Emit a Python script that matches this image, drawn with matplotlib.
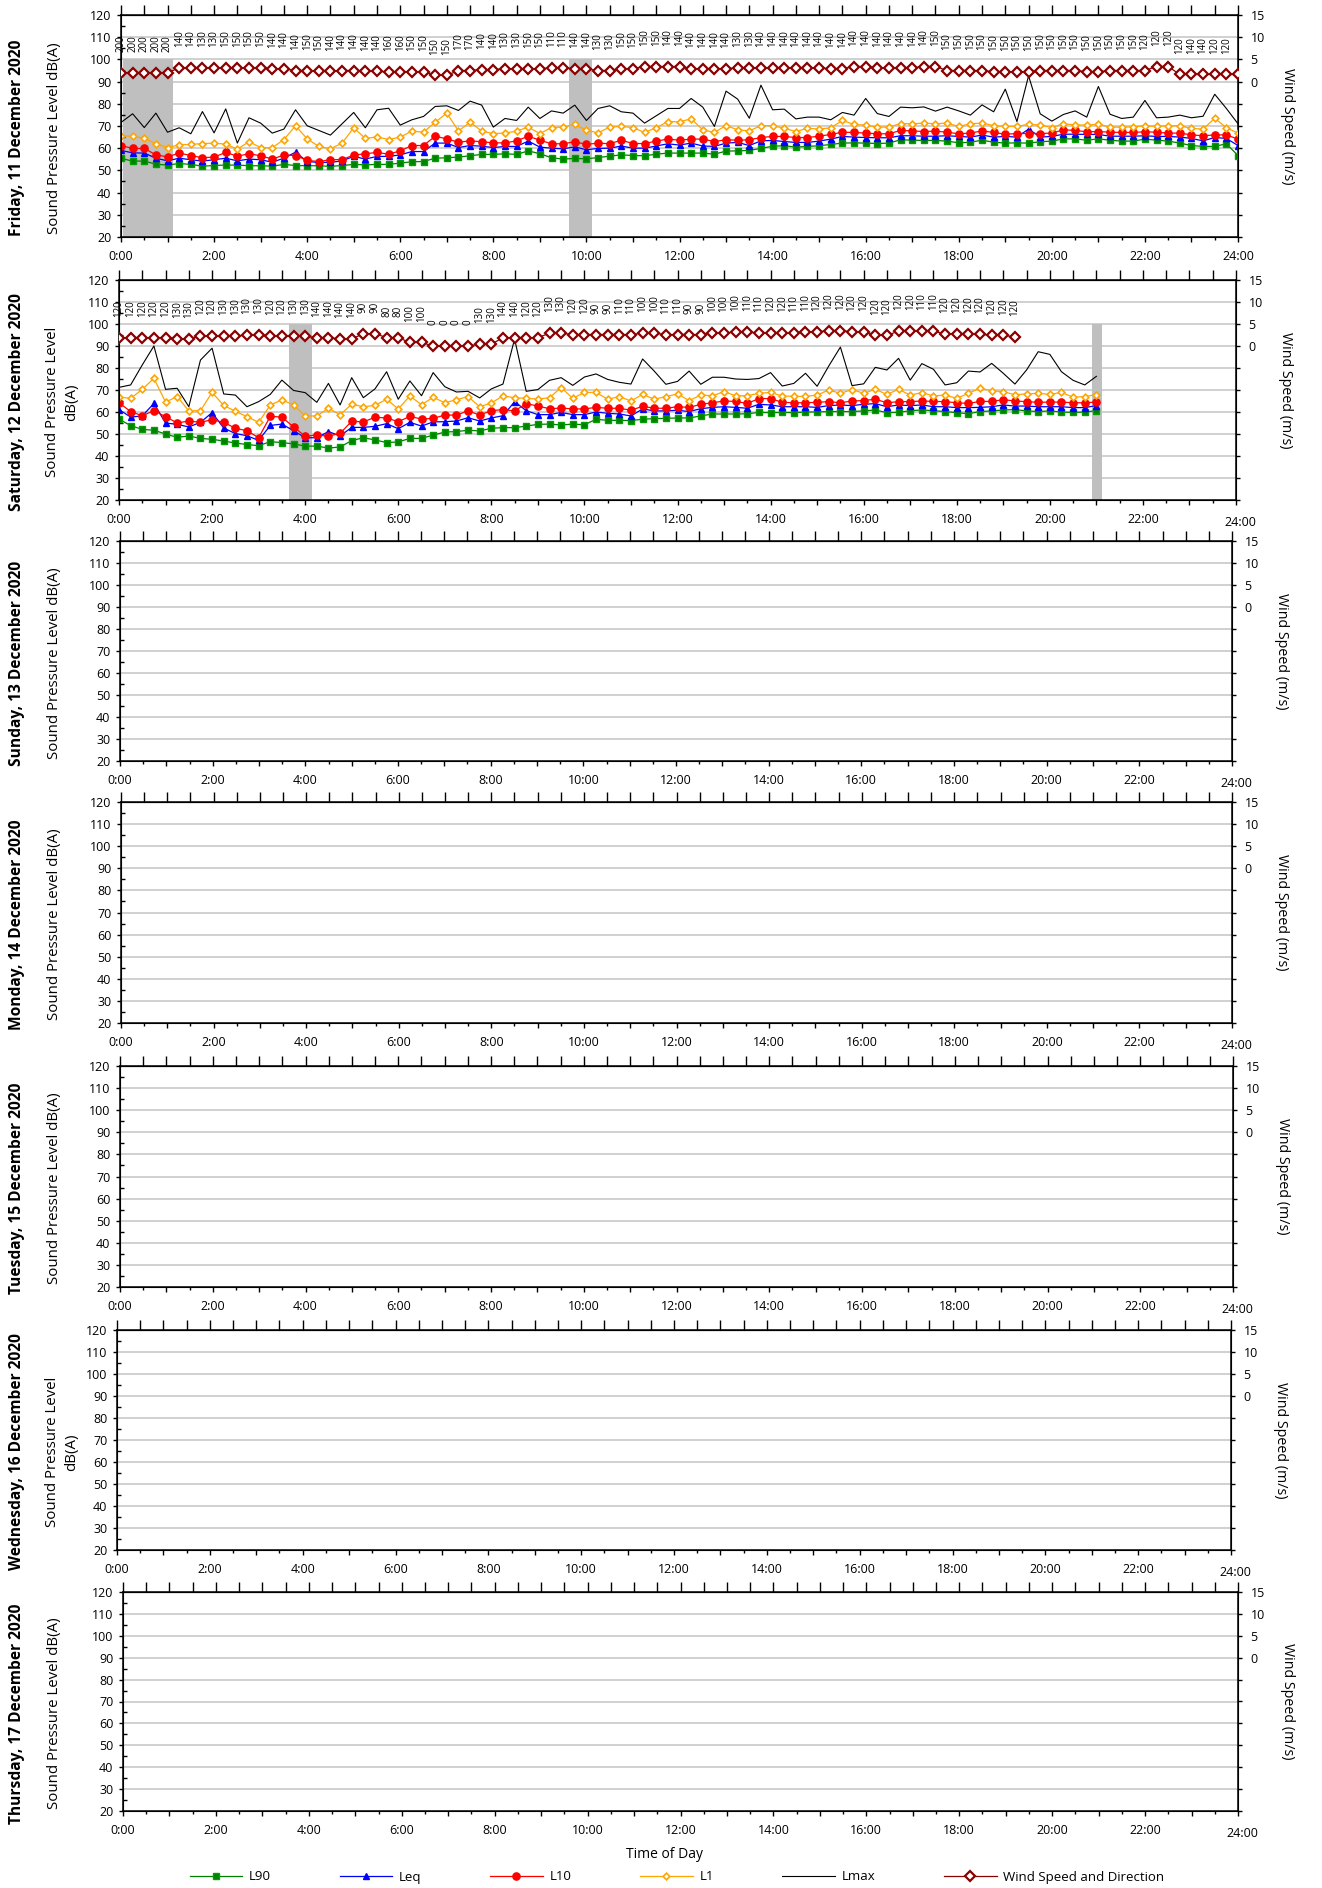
import numpy as np
import matplotlib.pyplot as plt
from matplotlib.ticker import MultipleLocator, FixedLocator, FuncFormatter

plt.rcParams['font.family'] = ['Open Sans', 'DejaVu Sans']

W, H = 1322, 1888

day_names = ["Friday, 11 December 2020", "Saturday, 12 December 2020",
             "Sunday, 13 December 2020", "Monday, 14 December 2020",
             "Tuesday, 15 December 2020", "Wednesday, 16 December 2020",
             "Thursday, 17 December 2020"]

# Friday 11 Dec - 15 minute values 0:00 .. 24:00
fri_l90 = [55.4, 54.2, 54.2, 52.8, 52.4, 53.1, 52.7, 51.9, 52.2, 52.4, 52.4, 52.1, 52.1, 51.9,
           52.7, 52.2, 52.1, 52.1, 51.8, 52.2, 52.7, 52.5, 52.7, 52.7, 53.3, 53.9, 54.0, 55.5,
           55.7, 56.0, 56.6, 57.2, 57.2, 57.5, 57.2, 58.8, 57.5, 55.7, 55.1, 55.4, 55.2, 55.8,
           56.4, 57.0, 56.7, 56.6, 57.3, 57.8, 57.8, 57.8, 57.8, 57.3, 58.7, 58.8, 59.0, 59.9,
           60.9, 61.1, 60.5, 60.8, 61.1, 61.7, 62.3, 62.4, 62.3,
           62.1, 62.3, 63.8, 63.6, 63.5, 63.5, 63.2, 62.4, 62.7, 63.6, 62.7, 62.3, 62.4, 62.3,
           62.9, 63.2, 64.2, 64.2, 63.6, 64.2, 63.6, 63.2, 63.2, 64.1, 63.6, 63.2, 62.3, 61.2,
           60.8, 60.8, 62.0, 56.7]
fri_leq = [59.0, 57.9, 57.8, 55.5, 54.3, 55.5, 54.8, 54.2, 54.8, 55.5, 54.3, 55.1, 54.8, 53.7,
           55.5, 58.2, 54.0, 53.6, 53.6, 54.3, 56.3, 55.1, 56.3, 56.3, 57.0, 58.5, 58.5, 62.3,
           62.3, 60.3, 61.2, 60.9, 60.3, 60.8, 60.8, 63.2, 60.5, 60.0, 59.7, 60.6, 59.3, 59.9,
           60.0, 61.0, 60.0, 60.0, 61.0, 62.0, 61.4, 62.3, 61.0, 60.8, 62.3, 62.6, 61.2, 63.3,
           63.5, 63.0, 62.6, 62.6, 63.2, 64.1, 65.3, 65.0, 64.8,
           64.7, 64.7, 65.6, 65.6, 65.4, 65.4, 65.6, 65.3, 65.0, 65.9, 65.0, 65.3, 65.0, 68.6,
           65.0, 65.3, 66.3, 66.3, 66.2, 66.2, 65.4, 65.4, 65.4, 65.6, 65.3, 65.3, 65.0, 64.4,
           63.3, 64.8, 64.4, 61.2]
fri_l10 = [61.2, 59.9, 59.9, 57.0, 56.1, 57.8, 56.7, 55.7, 56.0, 58.1, 56.4, 57.5, 56.6, 55.1,
           56.9, 56.7, 54.5, 54.0, 54.8, 54.9, 56.9, 57.5, 58.1, 57.3, 58.8, 61.2, 61.2, 65.4,
           64.2, 62.7, 63.3, 62.9, 62.4, 62.4, 63.3, 65.4, 63.6, 62.0, 62.0, 62.9, 61.7, 62.3,
           62.0, 63.6, 62.1, 62.1, 63.2, 64.1, 63.6, 64.1, 64.1, 63.0, 63.8, 63.6, 63.8, 64.8,
           65.3, 65.3, 64.8, 64.8, 65.4, 66.2, 67.2, 67.1, 66.8,
           66.5, 66.5, 68.0, 67.8, 67.5, 67.7, 67.2, 66.5, 66.8, 67.8, 67.1, 66.3, 66.6, 66.6,
           66.6, 66.8, 68.3, 68.0, 67.4, 67.5, 67.2, 67.1, 67.1, 67.4, 67.2, 66.8, 66.8, 66.0,
           65.6, 66.0, 66.0, 64.1]
fri_l1 = [65.7, 65.3, 64.5, 62.0, 60.3, 61.5, 61.7, 62.1, 62.3, 61.8, 59.6, 62.9, 60.3, 60.2,
          63.9, 70.1, 64.2, 60.8, 59.7, 62.3, 69.2, 64.4, 65.1, 63.9, 65.0, 67.7, 67.2, 71.7,
          75.8, 67.8, 71.7, 67.7, 66.6, 66.8, 67.7, 69.5, 66.6, 69.3, 69.5, 70.7, 68.1, 66.9,
          69.5, 69.8, 69.3, 67.1, 69.2, 72.0, 71.9, 73.2, 68.3, 67.1, 70.2, 68.3, 67.8, 70.2,
          70.1, 69.0, 67.5, 69.0, 68.6, 69.2, 72.5, 70.7, 70.4,
          69.5, 69.5, 71.1, 71.0, 71.3, 71.0, 71.3, 69.8, 71.0, 71.3, 70.2, 69.8, 69.8, 70.8,
          70.4, 69.3, 71.0, 70.5, 70.4, 70.8, 69.5, 69.5, 69.6, 70.1, 69.8, 70.1, 70.1, 68.9,
          68.6, 73.5, 69.2, 66.8]
fri_lmax = [71.6, 75.5, 69.3, 75.8, 67.2, 69.2, 66.5, 76.5, 66.9, 77.7, 62.3, 73.7, 71.3, 66.8,
            68.6, 77.3, 70.1, 68.0, 65.9, 71.0, 76.1, 69.2, 77.3, 78.0, 70.4, 72.8, 74.3, 78.8,
            79.1, 77.0, 81.2, 79.4, 69.5, 73.4, 72.5, 78.5, 73.4, 76.8, 75.8, 79.4, 72.5, 77.9,
            79.1, 76.4, 75.8, 71.3, 74.6, 77.9, 77.9, 82.4, 78.5, 69.8, 85.7, 82.1, 73.5, 88.4,
            77.3, 77.6, 73.2, 74.0, 74.0, 72.8, 76.1, 74.9, 82.4,
            75.6, 74.3, 78.5, 78.2, 78.6, 76.7, 78.5, 76.8, 74.9, 79.5, 76.4, 86.6, 72.0, 92.6,
            75.5, 72.2, 75.2, 76.8, 74.0, 87.8, 75.3, 73.4, 74.0, 81.5, 73.7, 74.0, 74.9, 73.7,
            74.4, 84.3, 77.9, 71.0]
fri_wind = [2.0] * 5 + [3.1] * 8 + [2.9] * 2 + [2.5] * 2 + [2.3] * 2 + [2.5] * 2 + [2.3] * 2 \
    + [2.2] * 4 + [1.4] * 2 + [2.5] * 2 + [2.7] * 2 + [2.9] * 4 + [3.1] * 2 + [2.9] * 2 \
    + [2.5] * 2 + [2.9] * 2 + [3.4] * 4 + [2.9] * 4 + [3.1] * 8 + [2.9] * 2 + [3.4] * 2 \
    + [3.1] * 4 + [3.4] * 2 + [2.5] * 4 + [2.2] * 4 + [2.5] * 4 + [2.2] * 2 + [2.5] * 4 \
    + [3.4] * 2 + [1.6] * 6
fri_dir = [200] * 5 + [140, 140, 130, 130, 150, 150, 150, 150,
           140, 140, 140, 150, 150, 140, 140, 140, 140, 140, 160, 160, 150, 150, 150, 150,
           170, 170, 140, 140, 130, 130, 150, 150, 110, 110, 140, 140, 130, 130,
           150, 150, 150, 150, 140, 140, 140, 140, 140, 140, 130, 130] + [140] * 9 \
    + [140] * 6 + [150] * 18 + [120, 120, 120, 120, 140, 140, 120, 120]
fri_rain = [(0.05, 1.12), (9.63, 10.13)]

# Saturday 12 Dec - 15 minute values 0:00 .. 21:00 (wind to 19:15)
sat_l90 = [56.8, 53.8, 52.1, 51.7, 50.0, 48.5, 49.1, 48.0, 47.6, 46.8, 45.9, 45.2, 44.7, 46.5,
           46.1, 45.5, 44.5, 44.5, 43.6, 44.1, 47.0, 48.3, 47.3, 46.1, 46.4, 48.0, 48.0, 49.5,
           50.9, 51.1, 51.7, 51.4, 52.6, 52.9, 52.9, 53.6, 54.4, 54.5, 54.1, 54.5, 54.2, 56.7,
           56.2, 56.2, 56.1, 56.7, 57.0, 57.1, 57.3, 57.3, 58.2, 59.1, 59.1, 59.1, 59.2, 59.8,
           59.7, 59.8, 59.7, 60.0, 60.0, 60.2, 60.2, 60.2, 60.5,
           60.9, 59.7, 59.8, 60.6, 60.9, 60.6, 60.2, 59.7, 59.2, 60.2, 60.5, 60.9, 61.1, 60.5,
           60.2, 60.5, 60.0, 59.8, 60.0, 60.6]
sat_leq = [61.1, 57.7, 58.2, 63.9, 55.0, 54.4, 53.2, 55.3, 59.7, 52.7, 50.2, 49.2, 47.1, 53.9,
           54.5, 51.5, 48.3, 48.3, 51.1, 49.1, 53.0, 53.0, 53.5, 54.7, 52.4, 55.3, 53.6, 55.5,
           55.6, 55.9, 57.4, 55.9, 57.3, 58.3, 64.7, 60.6, 58.8, 58.8, 59.8, 58.8, 58.8, 60.0,
           59.4, 59.1, 58.2, 61.4, 60.5, 60.5, 60.8, 60.2, 61.5, 62.1, 62.4, 62.1, 61.7, 63.5,
           63.2, 62.4, 62.4, 62.4, 62.1, 62.9, 63.2, 62.9, 63.5,
           63.8, 62.4, 63.2, 62.9, 63.2, 62.4, 62.4, 62.0, 62.0, 62.1, 62.4, 63.2, 62.7, 62.7,
           62.4, 62.4, 62.4, 62.0, 62.0, 62.9]
sat_l10 = [64.2, 60.2, 58.3, 60.6, 57.9, 55.0, 55.9, 55.3, 56.5, 55.3, 52.6, 51.5, 48.3, 58.0,
           57.7, 53.2, 49.0, 49.5, 49.0, 50.3, 55.8, 55.5, 57.6, 57.3, 55.6, 58.0, 56.8, 57.1,
           58.6, 58.6, 60.5, 58.6, 60.6, 61.1, 60.5, 63.8, 62.7, 61.5, 61.8, 61.4, 61.4, 62.1,
           61.7, 61.7, 60.8, 62.6, 61.7, 61.7, 62.4, 62.1, 63.5, 64.2, 65.0, 64.8, 63.9, 66.1,
           66.1, 64.4, 64.2, 64.2, 64.4, 64.7, 64.2, 65.0, 65.2,
           65.8, 64.2, 64.7, 64.7, 65.0, 64.8, 64.7, 64.2, 63.9, 64.8, 64.8, 65.6, 65.0, 64.7,
           64.4, 64.5, 64.5, 64.2, 64.2, 64.5]
sat_l1 = [66.8, 66.2, 70.3, 75.3, 64.5, 67.0, 60.5, 60.6, 68.9, 63.0, 60.3, 57.9, 55.3, 63.2,
          65.5, 63.2, 58.2, 58.2, 61.7, 58.8, 63.5, 62.4, 63.0, 65.8, 61.4, 67.3, 63.3, 66.7,
          64.2, 65.6, 67.0, 62.4, 64.1, 67.3, 66.5, 66.2, 65.9, 66.5, 71.1, 66.2, 68.9, 68.9,
          65.8, 67.0, 65.0, 68.0, 65.8, 67.0, 68.2, 65.2, 67.7, 67.4, 69.2, 67.4, 67.4, 68.5,
          68.9, 67.3, 67.1, 67.1, 67.7, 70.0, 68.5, 70.2, 68.5,
          70.3, 68.0, 70.3, 67.7, 68.8, 67.3, 67.7, 66.2, 68.5, 70.8, 69.7, 69.2, 67.9, 68.2,
          68.5, 68.0, 68.9, 66.7, 67.0, 67.9]
sat_lmax = [71.2, 72.3, 81.4, 90.0, 70.3, 70.8, 62.4, 83.6, 89.0, 68.2, 67.7, 62.4, 64.7, 68.0,
            74.5, 69.8, 68.8, 64.4, 73.0, 63.2, 75.6, 66.5, 70.5, 78.3, 65.8, 74.1, 67.4, 77.9,
            71.5, 69.1, 69.4, 66.4, 70.5, 72.7, 93.2, 69.4, 70.2, 74.4, 75.6, 72.1, 75.9, 77.3,
            74.8, 73.5, 72.7, 84.1, 78.6, 72.6, 73.9, 78.6, 72.6, 75.8, 75.8, 75.0, 74.8, 75.2,
            77.9, 71.8, 73.0, 77.6, 71.7, 80.9, 89.5, 72.0, 72.8,
            80.3, 79.1, 84.4, 74.5, 82.0, 79.4, 72.3, 73.3, 78.6, 78.2, 82.1, 77.6, 72.7, 79.1,
            87.4, 86.2, 78.3, 74.4, 72.3, 76.2]
sat_wind = [1.9] * 5 + [1.6] * 2 + [2.2] * 4 + [2.5] * 2 + [2.2] * 4 + [1.9] * 2 + [1.6] * 2 \
    + [2.8] * 2 + [1.9] * 2 + [0.8] * 2 + [0.0] * 4 + [0.4] * 2 + [1.9] * 4 + [2.9] * 2 \
    + [2.6] * 6 + [2.9] * 2 + [2.6] * 4 + [2.9] * 2 + [3.2] * 2 + [2.9] * 4 + [3.2] * 2 \
    + [3.5] * 2 + [3.2] * 2 + [2.4] * 2 + [3.4] * 4 + [2.7] * 4 + [2.4] * 2 + [2.1]
sat_dir = [120, 120, 120, 120, 120, 130, 130, 120, 120, 130, 130, 130, 130, 120, 120, 130, 130,
           140, 140, 140, 140, 90, 90, 80, 80, 100, 100, 0,
           0, 0, 0, 130, 130, 140, 140, 120, 120, 130, 130, 120, 120, 90, 90, 110, 110,
           100, 100, 110, 110, 90, 90, 100, 100, 100, 110, 110, 120, 120, 110, 110,
           120, 120, 120, 120, 120,
           120, 120, 120, 120, 110, 110, 120, 120, 120, 120, 120, 120, 120]
sat_rain = [(3.65, 4.15), (20.9, 21.12)]

day_data = [
    (fri_l90, fri_leq, fri_l10, fri_l1, fri_lmax, fri_wind, fri_dir, fri_rain),
    (sat_l90, sat_leq, sat_l10, sat_l1, sat_lmax, sat_wind, sat_dir, sat_rain),
    None, None, None, None, None,
]

# axes boxes in pixels: top, bottom, left, right
boxes = [(15, 237, 121, 1238), (280, 500, 119, 1236), (541, 761, 120, 1232),
         (802, 1023, 121, 1232), (1066, 1287, 120, 1233), (1330, 1550, 117, 1231),
         (1592, 1811, 123, 1238)]
two_line = [False, True, False, False, False, True, False]

series_style = [
    ("L90", dict(color="#008000", marker="s", ms=4.6, mfc="#008000", mec="#00A000", lw=0.9)),
    ("Leq", dict(color="#0000FF", marker="^", ms=4.6, mfc="#0000FF", mec="#0000FF", lw=0.9)),
    ("L10", dict(color="#FF0000", marker="o", ms=5.2, mfc="#FF0000", mec="#FF0000", lw=0.9)),
    ("L1", dict(color="#FFA500", marker="D", ms=3.4, mfc="white", mec="#FFA500", mew=1.2, lw=0.9)),
    ("Lmax", dict(color="black", marker=None, lw=0.8)),
]

fig = plt.figure(figsize=(W / 100, H / 100), dpi=100)


def tfmt(x, pos):
    h = int(round(x))
    return f"{h}:00" if abs(x - h) < 1e-6 and h % 2 == 0 else ""


legend_handles = []
for i, (top, bot, left, right) in enumerate(boxes):
    ax = fig.add_axes([left / W, 1 - bot / H, (right - left) / W, (bot - top) / H])
    ax.set_xlim(0, 24)
    ax.set_ylim(20, 120)
    ax.yaxis.set_major_locator(MultipleLocator(10))
    ax.yaxis.set_minor_locator(MultipleLocator(5))
    ax.xaxis.set_major_locator(MultipleLocator(1))
    ax.xaxis.set_minor_locator(MultipleLocator(0.5))
    ax.xaxis.set_major_formatter(FuncFormatter(tfmt))
    ax.tick_params(axis="y", which="major", direction="out", length=3, width=1, labelsize=9, pad=4)
    ax.tick_params(axis="y", which="minor", direction="in", length=3, width=1)
    ax.tick_params(axis="x", which="major", direction="out", length=3.5, width=1, labelsize=9, pad=6)
    ax.tick_params(axis="x", which="minor", direction="out", length=2, width=1)
    for s in ax.spines.values():
        s.set_linewidth(1.1)
    for g in range(30, 120, 10):
        ax.axhline(g, color="#C4C4C4", lw=1.1, zorder=0.5)

    top_ax = ax.secondary_xaxis("top")
    top_ax.set_xticks(np.arange(0, 24.01, 0.5))
    top_ax.tick_params(direction="out", length=7, width=1, labeltop=False)

    if i > 0:
        # the 24:00 label sits slightly lower and to the right on these days
        ax.annotate("24:00", xy=(24, 0), xycoords=("data", "axes fraction"), xytext=(3, -11.5),
                    textcoords="offset points", ha="center", va="top", fontsize=9)
        ax.xaxis.set_major_formatter(FuncFormatter(lambda x, p: "" if x > 23 else tfmt(x, p)))

    wx = ax.twinx()
    wx.set_ylim(-35, 15)
    wx.yaxis.set_major_locator(FixedLocator(np.arange(-35, 16, 5)))
    wx.yaxis.set_major_formatter(FuncFormatter(lambda v, p: f"{v:.0f}" if v >= 0 else ""))
    wx.tick_params(axis="y", direction="out", length=3, width=1, labelsize=9, pad=6)
    wx.set_ylabel("Wind Speed (m/s)", rotation=270, fontsize=10.3, labelpad=22)

    cy = 1 - ((top + bot) / 2 + 12) / H
    fig.text(17 / W, cy, day_names[i], rotation=90, ha="center", va="center",
             fontsize=11.2, fontweight="bold")
    if two_line[i]:
        fig.text(62 / W, cy, "Sound Pressure Level\ndB(A)", rotation=90, ha="center",
                 va="center", fontsize=10.8, linespacing=1.3)
    else:
        fig.text(55 / W, cy, "Sound Pressure Level dB(A)", rotation=90, ha="center",
                 va="center", fontsize=10.8)

    data = day_data[i]
    if data is None:
        continue
    l90, leq, l10, l1, lmax, wind, wdir, rain = data
    t = np.arange(len(l90)) * 0.25
    for a, b in rain:
        ax.fill_between([a, b], 20, 100, color="#BFBFBF", lw=0, zorder=1)
    lines = {}
    for (name, st), vals in zip(series_style, [l90, leq, l10, l1, lmax]):
        ln, = ax.plot(t, vals, label=name, zorder=3, **st)
        lines[name] = ln
    tw = np.arange(len(wind)) * 0.25
    wl, = wx.plot(tw, wind, color="#8B0000", marker="D", ms=5.2, mfc="white", mec="#8B0000",
                  mew=1.6, lw=0.9, label="Wind Speed and Direction", zorder=4)
    for x, v, d in zip(tw, wind, wdir):
        wx.annotate(str(d), xy=(x, v), xytext=(0, 15), textcoords="offset points",
                    rotation=90, ha="center", va="bottom", fontsize=7)
    if i == 0:
        legend_handles = [lines[n] for n, _ in series_style] + [wl]

fig.text(665 / W, 1 - 1855 / H, "Time of Day", ha="center", va="center", fontsize=10)
fig.legend(legend_handles, [h.get_label() for h in legend_handles], loc="center",
           bbox_to_anchor=(677 / W, 1 - 1877 / H), ncol=6, frameon=False, fontsize=9.5,
           handlelength=4, columnspacing=5.2, handletextpad=0.5)

fig.savefig("out.png", dpi=100)
